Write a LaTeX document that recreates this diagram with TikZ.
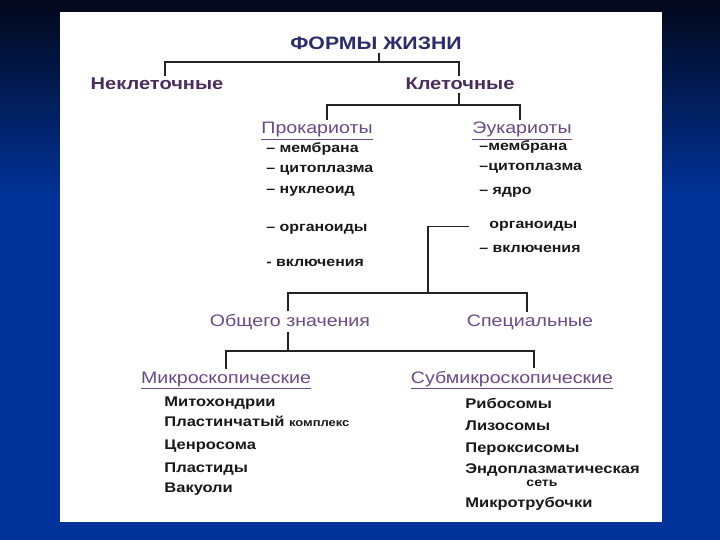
\documentclass[tikz,border=0pt]{standalone}
\usepackage{fontspec}
\setmainfont[FakeStretch=1.18]{Liberation Sans}
\usetikzlibrary{positioning, calc}
\definecolor{bgtop}{HTML}{03081A}
\definecolor{bgblue}{HTML}{01339B}
\definecolor{titleblue}{HTML}{2B2B6E}
\definecolor{headpurple}{HTML}{4A2D5C}
\definecolor{subpurple}{HTML}{6B4A85}
\definecolor{linegray}{HTML}{222222}

\begin{document}
\begin{tikzpicture}[x=1pt, y=-1pt, thick]
    \tikzset{
        root/.style={anchor=base, inner sep=2pt, font=\fontsize{18}{18}\selectfont\bfseries, text=titleblue},
        cat/.style={anchor=base, inner sep=2pt, font=\fontsize{17}{17}\selectfont\bfseries, text=headpurple},
        subcat/.style={anchor=base, inner sep=2pt, font=\fontsize{16.6}{16.6}\selectfont, text=subpurple},
        entry/.style={anchor=base west, inner sep=1pt, font=\fontsize{13.5}{13.5}\selectfont\bfseries, text=black!90},
        organ/.style={anchor=base west, inner sep=1pt, font=\fontsize{14}{14}\selectfont\bfseries, text=black!90},
        line/.style={draw=linegray, line width=1.3pt}
    }
    % background and panel
    \useasboundingbox (0,0) rectangle (720,540);
    \fill[bgblue] (0,0) rectangle (720,540);
    \shade[top color=bgtop, bottom color=bgblue] (0,0) rectangle (720,200);
    \fill[white] (60,12) rectangle (662,522);

    \node (Title) [root] at (376,50) {ФОРМЫ ЖИЗНИ};

    \node (NonCell) [cat] at (157,90) {Неклеточные};
    \node (Cell) [cat] at (460,90) {Клеточные};

    \node (Prok) [subcat] at (317,134) {\underline{Прокариоты}};
    \node (Euk) [subcat] at (522,134) {\underline{Эукариоты}};

    \node (P1) [entry] at (265,153) {– мембрана};
    \node (P2) [entry] at (265,173) {– цитоплазма};
    \node (P3) [entry] at (265,194) {– нуклеоид};
    \node (P4) [entry] at (265,231) {– органоиды};
    \node (P5) [entry] at (265,266) {- включения};

    \node (E1) [entry] at (478,151) {–мембрана};
    \node (E2) [entry] at (478,171) {–цитоплазма};
    \node (E3) [entry] at (478,195) {– ядро};
    \node (EOrg) [entry] at (488,229) {органоиды};
    \node (E5) [entry] at (478,252) {– включения};

    \node (General) [subcat] at (290,326) {Общего значения};
    \node (Special) [subcat] at (530,326) {Специальные};

    \node (Micro) [subcat] at (226,383) {\underline{Микроскопические}};
    \node (Submicro) [subcat] at (512,383) {\underline{Субмикроскопические}};

    \node (M1) [organ] at (163,406) {Митохондрии};
    \node (M2) [organ] at (163,426) {Пластинчатый {\fontsize{11}{11}\selectfont комплекс}};
    \node (M3) [organ] at (163,449) {Ценросома};
    \node (M4) [organ] at (163,472) {Пластиды};
    \node (M5) [organ] at (163,492) {Вакуоли};

    \node (S1) [organ] at (464,408) {Рибосомы};
    \node (S2) [organ] at (464,430) {Лизосомы};
    \node (S3) [organ] at (464,452) {Пероксисомы};
    \node (S4) [organ] at (464,473) {Эндоплазматическая};
    \node (S4b) [organ, anchor=base, font=\fontsize{12}{12}\selectfont\bfseries] at (542,486) {сеть};
    \node (S5) [organ] at (464,507) {Микротрубочки};

    % branch points
    \coordinate (J1) at (379,62);
    \coordinate (J2) at (459,105);
    \coordinate (J3) at (428,293);
    \coordinate (J4) at (288,351);

    \path [line] (Title.south -| J1) -- (J1);
    \path [line] ([xshift=8pt]NonCell.north) |- (J1) -| ([xshift=-1pt]Cell.north);

    \path [line] (Cell.south -| J2) -- (J2);
    \path [line] ([xshift=10pt]Prok.north) |- (J2) -| ([xshift=-2pt]Euk.north);

    \path [line] ([xshift=-19pt]EOrg.west) -| (J3);
    \path [line] ([xshift=-2pt]General.north) |- (J3) -| ([xshift=-3pt]Special.north);

    \path [line] (General.south -| J4) -- (J4);
    \path [line] (Micro.north) |- (J4) -| ([xshift=22pt]Submicro.north);

\end{tikzpicture}
\end{document}
